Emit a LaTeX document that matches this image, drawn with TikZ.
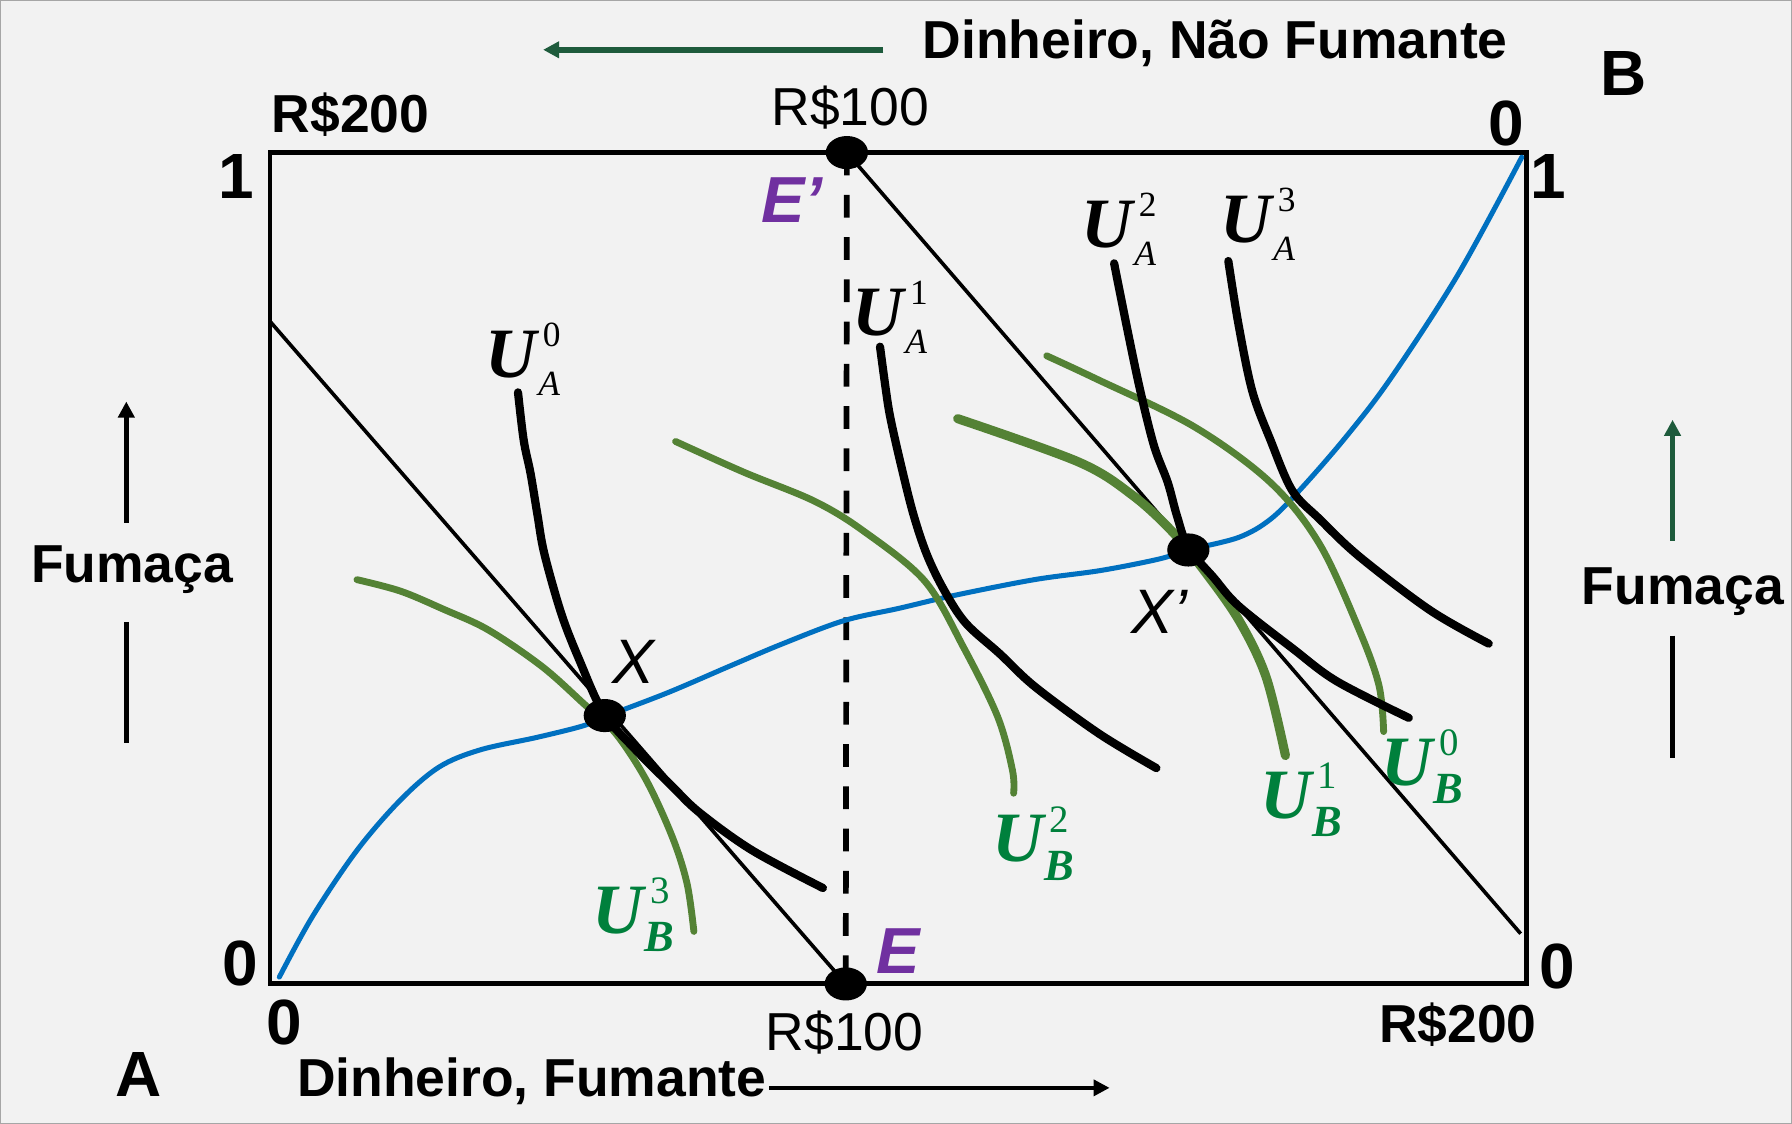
\documentclass[tikz,border=0pt]{standalone}
\usepackage{fontspec}
\setmainfont{Liberation Sans}
\newfontfamily\ser{Liberation Serif}
\usetikzlibrary{arrows.meta,shapes.geometric}
\definecolor{bgc}{HTML}{F2F2F2}
\definecolor{bluec}{HTML}{0070C0}
\definecolor{gcurve}{HTML}{548235}
\definecolor{gtext}{HTML}{00803C}
\definecolor{darkg}{HTML}{1E5B3C}
\definecolor{purp}{HTML}{7030A0}
\newcommand\ulabA[2]{{\fontsize{31}{31}\selectfont\ser\bfseries\itshape U}\rlap{\kern2.8pt\raisebox{13.5pt}{\fontsize{15.5}{15.5}\selectfont\ser #1}}\kern0.8pt\raisebox{-7.8pt}{\fontsize{15.5}{15.5}\selectfont\ser\itshape #2}}
\newcommand\ulabB[2]{{\fontsize{31}{31}\selectfont\ser\bfseries\itshape U}\rlap{\kern2.8pt\raisebox{13pt}{\fontsize{17}{17}\selectfont\ser #1}}\kern0.4pt\raisebox{-8pt}{\fontsize{19.5}{19.5}\selectfont\ser\bfseries\itshape #2}}
\begin{document}
\begin{tikzpicture}[x=0.5pt,y=-0.5pt,
  lbl/.style={font=\fontsize{23.4}{24}\selectfont\bfseries, inner sep=0pt, anchor=base},
  money/.style={font=\fontsize{23.4}{24}\selectfont, inner sep=0pt, anchor=base},
  num/.style={font=\fontsize{28}{28}\selectfont\bfseries, inner sep=0pt, anchor=base},
  ptlbl/.style={font=\fontsize{28.5}{28}\selectfont\bfseries\itshape, text=purp, inner sep=0pt, anchor=base},
  xlbl/.style={font=\fontsize{27.5}{28}\selectfont\itshape, inner sep=0pt, anchor=base},
  ulbl/.style={inner sep=0pt, anchor=base west},
  dot/.style={ellipse, fill=black, minimum width=18.5pt, minimum height=14.5pt, inner sep=0pt},
  icA/.style={line width=3.6pt, line cap=round, line join=round},
  icB/.style={line width=3pt, color=gcurve, line cap=round, line join=round},
  budget/.style={line width=1.6pt},
  frame/.style={line width=2pt},
  arrw/.style={line width=2.2pt},
  tip/.style={-{Triangle[length=7pt,width=7pt]}},
]
% background
\fill[bgc] (0,0) rectangle (1568,983);
\draw[gray!70, line width=0.6pt] (0,0) rectangle (1568,983);
\useasboundingbox (0,0) rectangle (1568,983);

% named points
\coordinate (Ep) at (741,133);
\coordinate (E) at (740,861);
\coordinate (X) at (529,626);
\coordinate (Xp) at (1040,481);
\coordinate (b1s) at (236,281);
\coordinate (b2e) at (1331,817);

% box
\draw[frame] (236,133) rectangle (1336,860.5);

% budget lines
\draw[budget] (b1s) -- (E);
\draw[budget] (Ep) -- (b2e);

% dashed vertical
\draw[line width=2.5pt, dash pattern=on 10pt off 8.5pt] (Ep) -- (E);

% contract curve (blue)
\draw[bluec, line width=2.2pt, line cap=round] plot[smooth, tension=0.55] coordinates {
 (244,855) (273,802) (312,744) (350,700) (384,671) (420,656) (470,645) (510,635) (529,627)
 (584,606) (640,582) (685,563) (738,543) (787,532) (834,521) (905,507) (963,499) (1014,489)
 (1040,481) (1084,470) (1112,454) (1139,427) (1178,382) (1217,331) (1276,240) (1332,137)};

% B indifference curves (green)
\draw[icB] plot[smooth, tension=0.55] coordinates {
 (312,507) (350,517) (388,533) (427,551) (474,583) (511,616) (538,641) (565,682) (588,732) (601,773) (607,815)};
\draw[icB] plot[smooth, tension=0.55] coordinates {
 (591,386) (651,413) (712,438) (755,464) (809,508) (843,566) (873,627) (886,674) (887,694)};
\draw[icB, line width=4pt] plot[smooth, tension=0.55] coordinates {
 (838,366) (944,404) (991,433) (1026,465) (1053,498) (1084,542) (1108,592) (1125,661)};
\draw[icB] plot[smooth, tension=0.55] coordinates {
 (916,311) (959,331) (1045,373) (1112,422) (1155,476) (1190,552) (1207,600) (1211,640)};

% A indifference curves (black)
\draw[icA] plot[smooth, tension=0.55] coordinates {
 (453,343) (458,385) (464,414) (470,450) (476,484) (491,537) (507,578) (528,624) (556,656) (588,688) (612,711) (658,744) (720,777)};
\draw[icA] plot[smooth, tension=0.55] coordinates {
 (770,303) (775,340) (779,365) (788,405) (799,449) (811,485) (826,516) (845,545) (875,572) (906,601) (962,642) (1012,672)};
\draw[icA] plot[smooth, tension=0.55] coordinates {
 (975,230) (987,290) (998,342) (1010,390) (1022,422) (1030,451) (1040,479) (1062,505) (1084,530) (1131,567) (1170,596) (1233,628)};
\draw[icA] plot[smooth, tension=0.55] coordinates {
 (1075,228) (1084,284) (1096,342) (1112,385) (1131,429) (1155,454) (1190,487) (1252,534) (1303,563)};

% dots
\node[dot] (dEp) at (Ep) {};
\node[dot] (dE) at (E) {};
\node[dot] (dX) at (X) {};
\node[dot] (dXp) at (Xp) {};

% arrows
\coordinate (ta1) at (773,43);
\coordinate (ta2) at (475,43);
\draw[tip, darkg, line width=2.5pt] (ta1) -- (ta2);
\coordinate (ba1) at (673,952);
\coordinate (ba2) at (971,952);
\draw[tip, line width=1.6pt] (ba1) -- (ba2);
\coordinate (la1) at (110,457);
\coordinate (la2) at (110,351);
\coordinate (la3) at (110,544);
\coordinate (la4) at (110,650);
\draw[tip, arrw] (la1) -- (la2);
\draw[arrw] (la3) -- (la4);
\coordinate (ra1) at (1464,473);
\coordinate (ra2) at (1464,367);
\coordinate (ra3) at (1464,556);
\coordinate (ra4) at (1464,663);
\draw[tip, arrw, darkg] (ra1) -- (ra2);
\draw[arrw] (ra3) -- (ra4);

% texts
\node[lbl] (tNF) at (1063.5,51) {Dinheiro, Não Fumante};
\node[num] (tB) at (1421,83) {B};
\node[lbl] (tR200a) at (306.4,115) {R\$200};
\node[money] (tR100a) at (744,109.4) {R\$100};
\node[num] (t0tr) at (1318.6,127) {0};
\node[num] (t1r) at (1355,173.5) {1};
\node[num] (t1l) at (206.5,173.5) {1};
\node[ptlbl] (tEp) at (693,194) {E’};
\node[num] (t0bl) at (210,862) {0};
\node[num] (t0b) at (248,914) {0};
\node[money] (tR100b) at (739,919) {R\$100};
\node[lbl] (tR200b) at (1276,912) {R\$200};
\node[num] (t0br) at (1363,865) {0};
\node[num] (tA) at (121,960) {A};
\node[lbl] (tF) at (465,960) {Dinheiro, Fumante};
\node[lbl] (tFumL) at (115,509.6) {Fumaça};
\node[lbl] (tFumR) at (1473,528.5) {Fumaça};
\node[xlbl] (tX) at (554,598) {X};
\node[xlbl] (tXp) at (1015,554) {X’};
\node[ptlbl] (tE) at (786,852) {E};

% utility labels
\node[ulbl] (uA0) at (424,330) {\ulabA{0}{A}};
\node[ulbl] (uA1) at (745.5,293) {\ulabA{1}{A}};
\node[ulbl] (uA2) at (946,216) {\ulabA{2}{A}};
\node[ulbl] (uA3) at (1067.6,211.5) {\ulabA{3}{A}};
\node[ulbl, text=gtext] (uB3) at (518,817) {\ulabB{3}{B}};
\node[ulbl, text=gtext] (uB2) at (868,754) {\ulabB{2}{B}};
\node[ulbl, text=gtext] (uB1) at (1102.4,716) {\ulabB{1}{B}};
\node[ulbl, text=gtext] (uB0) at (1209,687) {\ulabB{0}{B}};
\end{tikzpicture}
\end{document}
